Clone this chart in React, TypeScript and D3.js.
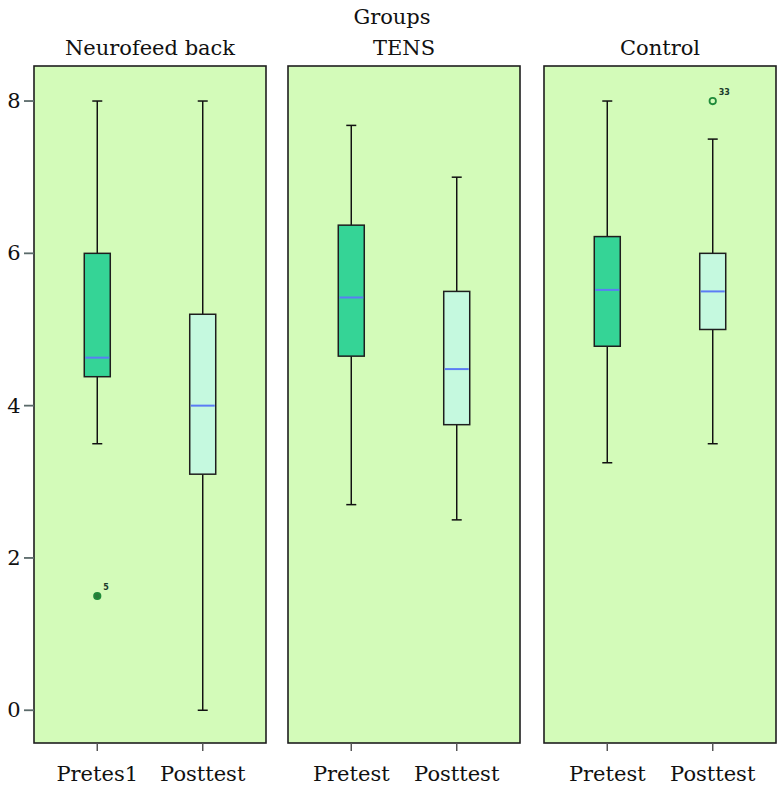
import React from "react";
import * as d3 from "d3";

const groups = ["Neurofeed back", "TENS", "Control"];
const phases = [
  ["Pretes1", "Posttest"],
  ["Pretest", "Posttest"],
  ["Pretest", "Posttest"],
];
// [min, q1, median, q3, max] per group per phase
const pretestStats = [
  [3.5, 4.38, 4.63, 6.0, 8.0],
  [2.7, 4.65, 5.42, 6.37, 7.68],
  [3.25, 4.78, 5.52, 6.22, 8.0],
];
const posttestStats = [
  [0, 3.1, 4.0, 5.2, 8.0],
  [2.5, 3.75, 4.48, 5.5, 7.0],
  [3.5, 5.0, 5.5, 6.0, 7.5],
];
const outliers = [
  { group: 0, phase: 0, value: 1.5, label: "5" },
  { group: 2, phase: 1, value: 8.0, label: "33" },
];
const yTicks = [0, 2, 4, 6, 8];

const panels = [
  { x0: 34, x1: 266 },
  { x0: 288, x1: 520 },
  { x0: 544, x1: 776 },
];
const top = 66;
const bottom = 743;

export default function App() {
  const y = d3.scaleLinear().domain([-0.43, 8.46]).range([bottom, top]);
  const font = "'DejaVu Serif', 'Liberation Serif', serif";
  const fs = 21;
  const boxW = 26;
  const capW = 10;
  const fills = ["#35d496", "#c5f9df"];
  return (
    <svg width={784} height={798} style={{ display: "block", position: "absolute", left: 0, top: 0 }}>
      <rect width={784} height={798} fill="#ffffff" />
      <text x={392} y={24} textAnchor="middle" fontFamily={font} fontSize={fs} fill="#111">Groups</text>
      {panels.map((p, gi) => {
        const x = d3
          .scalePoint<string>()
          .domain(["a", "b"])
          .range([p.x0, p.x1])
          .padding(0.6);
        const keys = ["a", "b"];
        const stats = [pretestStats[gi], posttestStats[gi]];
        return (
          <g key={gi}>
            <text x={(p.x0 + p.x1) / 2} y={55} textAnchor="middle" fontFamily={font} fontSize={fs} fill="#111">
              {groups[gi]}
            </text>
            <rect x={p.x0} y={top} width={p.x1 - p.x0} height={bottom - top} fill="#d3fbb9" stroke="#1e1e1e" strokeWidth={1.6} />
            {stats.map((s, pi) => {
              const cx = x(keys[pi])!;
              return (
                <g key={pi}>
                  <line x1={cx} x2={cx} y1={y(s[0])} y2={y(s[1])} stroke="#111" strokeWidth={1.5} />
                  <line x1={cx} x2={cx} y1={y(s[3])} y2={y(s[4])} stroke="#111" strokeWidth={1.5} />
                  <line x1={cx - capW / 2} x2={cx + capW / 2} y1={y(s[0])} y2={y(s[0])} stroke="#111" strokeWidth={1.5} />
                  <line x1={cx - capW / 2} x2={cx + capW / 2} y1={y(s[4])} y2={y(s[4])} stroke="#111" strokeWidth={1.5} />
                  <rect x={cx - boxW / 2} y={y(s[3])} width={boxW} height={y(s[1]) - y(s[3])} fill={fills[pi]} stroke="#1e1e1e" strokeWidth={1.5} />
                  <line x1={cx - boxW / 2 + 1} x2={cx + boxW / 2 - 1} y1={y(s[2])} y2={y(s[2])} stroke="#5b7cf5" strokeWidth={2} />
                  <line x1={cx} x2={cx} y1={bottom} y2={bottom + 8} stroke="#555" strokeWidth={1.5} />
                  <text x={cx} y={bottom + 38} textAnchor="middle" fontFamily={font} fontSize={fs} fill="#111">
                    {phases[gi][pi]}
                  </text>
                </g>
              );
            })}
            {outliers
              .filter((o) => o.group === gi)
              .map((o, i) => {
                const cx = x(keys[o.phase])!;
                return (
                  <g key={i}>
                    <circle cx={cx} cy={y(o.value)} r={3.2} fill={o.group === 0 ? "#2a7a3a" : "none"} stroke="#1f8a3a" strokeWidth={1.8} />
                    <text x={cx + 6} y={y(o.value) - 6} fontFamily="'DejaVu Sans', sans-serif" fontSize={8} fontWeight="bold" fill="#1a3a2a">
                      {o.label}
                    </text>
                  </g>
                );
              })}
          </g>
        );
      })}
      {yTicks.map((t) => (
        <g key={t}>
          <line x1={24} x2={34} y1={y(t)} y2={y(t)} stroke="#5a6a6a" strokeWidth={1.8} />
          <text x={14} y={y(t) + 7} textAnchor="middle" fontFamily={font} fontSize={fs} fill="#111">{t}</text>
        </g>
      ))}
    </svg>
  );
}
